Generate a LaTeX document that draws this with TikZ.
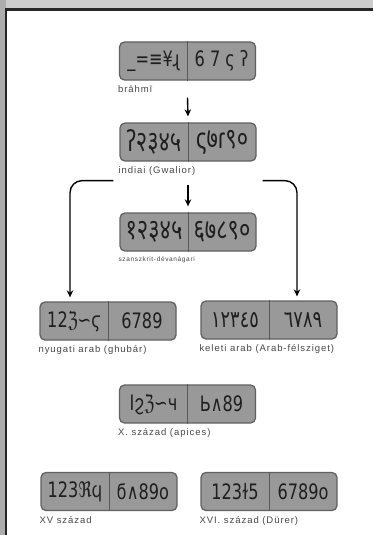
\documentclass[tikz,border=0pt]{standalone}
\usepackage{fontspec}
\usepackage{graphicx}
\setmainfont{Liberation Sans}
\newfontfamily\numfont{DejaVu Sans}
\newfontfamily\devfont[Script=Devanagari,Scale=1.35]{Noto Sans}
\newfontfamily\arabicfont[Script=Arabic,Scale=1.1]{DejaVu Sans}
\newfontfamily\labelfont[LetterSpace=10]{Liberation Sans}
\usetikzlibrary{arrows.meta}

\tikzset{
  numbox/.style={draw=black!62, fill=black!40, line width=1.3pt,
    rounded corners=5pt, minimum width=136pt, minimum height=38pt, inner sep=0pt},
  digits/.style={text=black!88, inner sep=0pt,
    font=\numfont\fontsize{17}{17}\selectfont},
  caption/.style={anchor=north west, inner sep=0pt, text=black!72,
    font=\labelfont\fontsize{9.5}{9.5}\selectfont},
  flow/.style={line width=1.4pt, -{Stealth[length=7pt,width=6.5pt]}},
  divider/.style={draw=black!65, line width=0.8pt},
}

% one numeral row: name, x, y, left digits, right digits, caption
\newcommand\numrow[6]{%
  \node[numbox] (#1) at (#2,#3) {};
  \draw[divider] (#1.north) -- (#1.south);
  \node[digits] (#1-l) at ([xshift=-34pt]#1.center) {\scalebox{0.95}[1.25]{#4}};
  \node[digits] (#1-r) at ([xshift=34pt]#1.center) {\scalebox{0.95}[1.25]{#5}};
  \node[caption] (#1-c) at ([xshift=-1pt,yshift=-5pt]#1.south west) {#6};
}

\begin{document}
\begin{tikzpicture}[x=1pt,y=-1pt]
  \useasboundingbox (0,0) rectangle (373,535);
  % page background and frame
  \fill[white] (0,0) rectangle (373,535);
  \fill[black!20] (0,0) rectangle (373,9);
  \fill[black!32] (0,0) rectangle (6,535);
  \draw[black!85, line width=2.5pt] (6,535) -- (6,9.5) -- (373,9.5);

  \numrow{brahmi}{187.5}{61}{\_=≡¥ɻ}{6 7 ς ʔ}{brāhmī}
  \numrow{gwalior}{188}{142}{\devfont ʔ२३४५}{\devfont ς७ɾ९०}{indiai (Gwalior)}
  \numrow{deva}{188}{232}{\devfont १२३४५}{\devfont ६७८९०}{}
  \node[caption, font=\labelfont\fontsize{6.5}{6.5}\selectfont] (deva-c2)
    at ([xshift=-1pt,yshift=-5pt]deva.south west) {szanszkrit-dévanágari};
  \numrow{ghubar}{108}{321}{12ℨ∽ϛ}{6789}{nyugati arab (ghubár)}
  \numrow{keleti}{269}{320}{\arabicfont ١٢٣٤٥}{\arabicfont ٦٧٨٩}{keleti arab (Arab-félsziget)}
  \numrow{apices}{187.5}{404}{Iϩℨ∽ч}{Ь∧89}{X. század (apices)}
  \numrow{xv}{109}{491.5}{123ℜϥ}{ϭ∧89ο}{XV század}
  \numrow{xvi}{269}{491.5}{123ɫ5}{6789o}{XVI. század (Dürer)}

  % lines of descent
  \draw[flow] ([yshift=-17pt]brahmi.south) -- ([yshift=6pt]gwalior.north);
  \draw[flow] ([yshift=-23pt]gwalior.south) -- ([yshift=6pt]deva.north);
  \draw[flow, rounded corners=12pt] ([xshift=-6pt,yshift=-19pt]gwalior.south west)
    -| ([xshift=-38pt,yshift=4pt]ghubar.north);
  \draw[flow, rounded corners=12pt] ([xshift=6pt,yshift=-19pt]gwalior.south east)
    -| ([xshift=28pt,yshift=4pt]keleti.north);
\end{tikzpicture}
\end{document}
